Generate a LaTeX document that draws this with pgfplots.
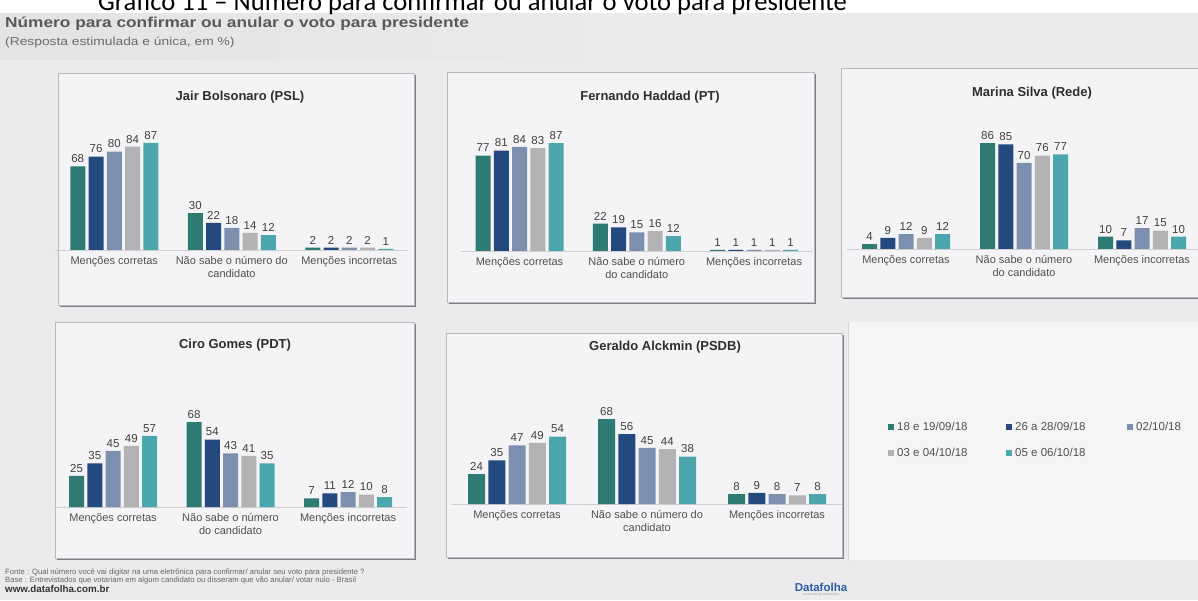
\documentclass[border=0pt]{standalone}
\usepackage{pgfplots}
\pgfplotsset{compat=1.18}
\usepackage{fontspec}
\setmainfont{Liberation Sans}
\newfontfamily\hdrfont[FakeStretch=1.2]{Liberation Sans}
\newfontfamily\gfont{Carlito}

\definecolor{cA}{HTML}{2D7B73}
\definecolor{cB}{HTML}{24497E}
\definecolor{cC}{HTML}{7D8FAE}
\definecolor{cD}{HTML}{B3B3B6}
\definecolor{cE}{HTML}{4BA6AE}
\definecolor{bg}{HTML}{EBEBED}
\definecolor{panelbg}{HTML}{F4F4F6}
\definecolor{panelline}{HTML}{B9B9BC}
\definecolor{shadow}{HTML}{7E7E82}
\definecolor{labgray}{HTML}{505050}
\definecolor{valgray}{HTML}{404040}
\definecolor{titgray}{HTML}{2E2E2E}
\definecolor{basegray}{HTML}{CFCFD2}
\definecolor{dfblue}{HTML}{2B5AA6}

\pgfplotsset{
  panel/.style={
    anchor=south west,
    ybar=3.25pt, bar width=15pt,
    ymin=0, ymax=100, xmin=-0.5, xmax=2.5,
    axis x line=bottom, axis y line=none,
    axis line style={-},
    x axis line style={draw=basegray, line width=0.7pt},
    xtick={0,1,2}, major tick length=0pt,
    xticklabel style={font=\fontsize{11}{13}\selectfont, text=labgray, align=center, yshift=-3pt},
    /pgf/number format/assume math mode=true,
    nodes near coords,
    nodes near coords style={font=\fontsize{11.5}{13}\selectfont, text=valgray},
    every axis plot/.append style={draw=none},
    clip=false,
  },
}

\newcommand{\panelbox}[4]{%
  \fill[shadow] (#1pt+2pt,#2pt-2pt) rectangle (#3pt+2pt,#4pt-2pt);
  \fill[panelbg, draw=panelline, line width=0.6pt] (#1pt,#2pt) rectangle (#3pt,#4pt);
}

\begin{document}
\begin{tikzpicture}
\useasboundingbox (0,0) rectangle (1198pt,600pt);
\clip (0,0) rectangle (1198pt,600pt);

% page background
\fill[bg] (0,0) rectangle (1198pt,600pt);
\shade[left color=black!11, right color=bg] (0,540pt) rectangle (620pt,587pt);
\fill[white] (0,587pt) rectangle (1198pt,600pt);
\fill[black!4] (848pt,40pt) rectangle (1198pt,278pt);
\draw[black!15, line width=1pt] (848pt,40pt) -- (848pt,278pt);

% headings
\node[anchor=base west, inner sep=0pt, font=\gfont\fontsize{26.6}{30}\selectfont] at (98pt,589pt)
  {Gráfico 11 – Número para confirmar ou anular o voto para presidente};
\node[anchor=base west, inner sep=0pt, text=black!65, font=\hdrfont\bfseries\fontsize{14.4}{17}\selectfont] at (5pt,572pt)
  {Número para confirmar ou anular o voto para presidente};
\node[anchor=base west, inner sep=0pt, text=black!58, font=\hdrfont\fontsize{11.5}{14}\selectfont] at (5pt,554pt)
  {(Resposta estimulada e única, em \%)};

% panel frames
\panelbox{58}{295}{414}{527}
\panelbox{447}{298}{814}{528}
\panelbox{841}{303}{1205}{532}
\panelbox{55}{42}{414}{278}
\panelbox{446}{43}{842}{267}

% panel titles
\begin{scope}[every node/.style={font=\bfseries\fontsize{13}{15}\selectfont, text=titgray}]
\node at (240pt,503pt) {Jair Bolsonaro (PSL)};
\node at (650pt,503pt) {Fernando Haddad (PT)};
\node at (1032pt,507pt) {Marina Silva (Rede)};
\node at (235pt,255pt) {Ciro Gomes (PDT)};
\node at (665pt,253pt) {Geraldo Alckmin (PSDB)};
\end{scope}

% Jair Bolsonaro
\begin{axis}[panel, at={(55.5pt,350pt)}, x=117.5pt, y=1.23pt,
  xticklabels={Menções corretas,{Não sabe o número do\\candidato},Menções incorretas}]
\addplot[fill=cA] coordinates {(0,68) (1,30) (2,2)};
\addplot[fill=cB] coordinates {(0,76) (1,22) (2,2)};
\addplot[fill=cC] coordinates {(0,80) (1,18) (2,2)};
\addplot[fill=cD] coordinates {(0,84) (1,14) (2,2)};
\addplot[fill=cE] coordinates {(0,87) (1,12) (2,1)};
\end{axis}

% Fernando Haddad
\begin{axis}[panel, at={(460.9pt,349pt)}, x=117.25pt, y=1.24pt,
  xticklabels={Menções corretas,{Não sabe o número\\do candidato},Menções incorretas}]
\addplot[fill=cA] coordinates {(0,77) (1,22) (2,1)};
\addplot[fill=cB] coordinates {(0,81) (1,19) (2,1)};
\addplot[fill=cC] coordinates {(0,84) (1,15) (2,1)};
\addplot[fill=cD] coordinates {(0,83) (1,16) (2,1)};
\addplot[fill=cE] coordinates {(0,87) (1,12) (2,1)};
\end{axis}

% Marina Silva
\begin{axis}[panel, at={(847pt,351pt)}, x=118pt, y=1.23pt,
  xticklabels={Menções corretas,{Não sabe o número\\do candidato},Menções incorretas}]
\addplot[fill=cA] coordinates {(0,4) (1,86) (2,10)};
\addplot[fill=cB] coordinates {(0,9) (1,85) (2,7)};
\addplot[fill=cC] coordinates {(0,12) (1,70) (2,17)};
\addplot[fill=cD] coordinates {(0,9) (1,76) (2,15)};
\addplot[fill=cE] coordinates {(0,12) (1,77) (2,10)};
\end{axis}

% Ciro Gomes
\begin{axis}[panel, at={(54.3pt,93pt)}, x=117.5pt, y=1.25pt,
  xticklabels={Menções corretas,{Não sabe o número\\do candidato},Menções incorretas}]
\addplot[fill=cA] coordinates {(0,25) (1,68) (2,7)};
\addplot[fill=cB] coordinates {(0,35) (1,54) (2,11)};
\addplot[fill=cC] coordinates {(0,45) (1,43) (2,12)};
\addplot[fill=cD] coordinates {(0,49) (1,41) (2,10)};
\addplot[fill=cE] coordinates {(0,57) (1,35) (2,8)};
\end{axis}

% Geraldo Alckmin (carries the shared legend)
\begin{axis}[panel, at={(452pt,96pt)}, x=130pt, y=1.25pt, bar width=17pt,
  xticklabels={Menções corretas,{Não sabe o número do\\candidato},Menções incorretas},
  legend columns=3,
  legend style={at={(1.1103,0.688)}, anchor=north west, draw=none, fill=none,
    font=\fontsize{11.5}{13}\selectfont, text=labgray,
    /tikz/every odd column/.append style={column sep=1pt},
    /tikz/row sep=12pt},
  legend image code/.code={\fill[#1] (0pt,-3pt) rectangle (6pt,3pt);}]
\addplot[fill=cA] coordinates {(0,24) (1,68) (2,8)};
\addplot[fill=cB] coordinates {(0,35) (1,56) (2,9)};
\addplot[fill=cC] coordinates {(0,47) (1,45) (2,8)};
\addplot[fill=cD] coordinates {(0,49) (1,44) (2,7)};
\addplot[fill=cE] coordinates {(0,54) (1,38) (2,8)};
\legend{\makebox[107pt][l]{18 e 19/09/18},\makebox[110pt][l]{26 a 28/09/18},\makebox[60pt][l]{02/10/18},
        \makebox[107pt][l]{03 e 04/10/18},\makebox[110pt][l]{05 e 06/10/18}}
\end{axis}

% footer
\node[anchor=base west, inner sep=0pt, text=black!60, font=\fontsize{7.7}{9}\selectfont] at (5pt,26pt)
  {Fonte : Qual número você vai digitar na urna eletrônica para confirmar/ anular seu voto para presidente ?};
\node[anchor=base west, inner sep=0pt, text=black!60, font=\fontsize{7.7}{9}\selectfont] at (5pt,18pt)
  {Base : Entrevistados que votariam em algum candidato ou disseram que vão anular/ votar nulo - Brasil};
\node[anchor=base west, inner sep=0pt, text=black!80, font=\bfseries\fontsize{9.8}{11}\selectfont] at (5pt,8pt)
  {www.datafolha.com.br};
\node[inner sep=0pt, text=dfblue, font=\bfseries\fontsize{11.5}{13}\selectfont] at (821pt,13pt) {Datafolha};
\node[inner sep=0pt, text=black!40, font=\fontsize{2.8}{3}\selectfont] at (821pt,5pt) {INSTITUTO DE PESQUISAS};
\end{tikzpicture}
\end{document}
